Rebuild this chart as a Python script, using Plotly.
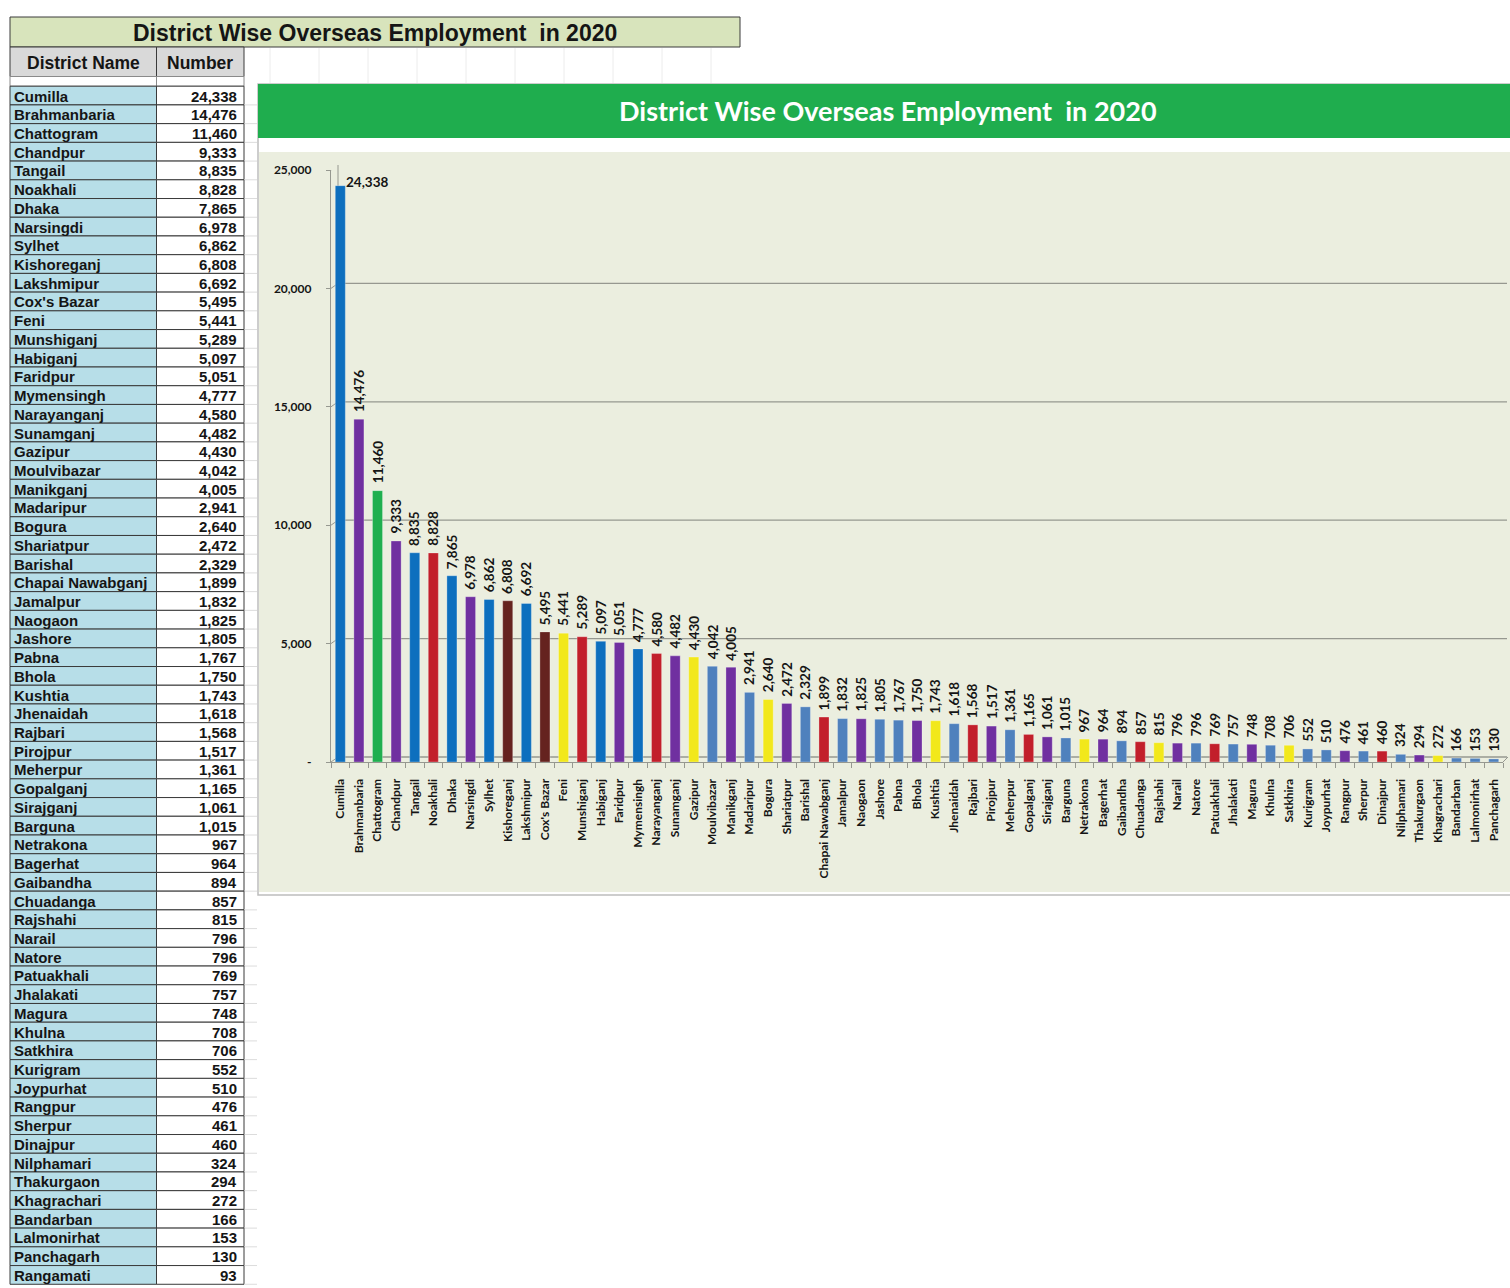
"""District wise overseas employment 2020 - table + 3D-like Excel bar chart in Plotly."""

import plotly.graph_objects as go

W, H = 1510, 1288

districts = [
    "Cumilla", "Brahmanbaria", "Chattogram", "Chandpur", "Tangail", "Noakhali",
    "Dhaka", "Narsingdi", "Sylhet", "Kishoreganj", "Lakshmipur", "Cox's Bazar",
    "Feni", "Munshiganj", "Habiganj", "Faridpur", "Mymensingh", "Narayanganj",
    "Sunamganj", "Gazipur", "Moulvibazar", "Manikganj", "Madaripur", "Bogura",
    "Shariatpur", "Barishal", "Chapai Nawabganj", "Jamalpur", "Naogaon", "Jashore",
    "Pabna", "Bhola", "Kushtia", "Jhenaidah", "Rajbari", "Pirojpur", "Meherpur",
    "Gopalganj", "Sirajganj", "Barguna", "Netrakona", "Bagerhat", "Gaibandha",
    "Chuadanga", "Rajshahi", "Narail", "Natore", "Patuakhali", "Jhalakati",
    "Magura", "Khulna", "Satkhira", "Kurigram", "Joypurhat", "Rangpur", "Sherpur",
    "Dinajpur", "Nilphamari", "Thakurgaon", "Khagrachari", "Bandarban",
    "Lalmonirhat", "Panchagarh", "Rangamati",
]
employment = [
    24338, 14476, 11460, 9333, 8835, 8828, 7865, 6978, 6862, 6808, 6692, 5495,
    5441, 5289, 5097, 5051, 4777, 4580, 4482, 4430, 4042, 4005, 2941, 2640,
    2472, 2329, 1899, 1832, 1825, 1805, 1767, 1750, 1743, 1618, 1568, 1517,
    1361, 1165, 1061, 1015, 967, 964, 894, 857, 815, 796, 796, 769, 757,
    748, 708, 706, 552, 510, 476, 461, 460, 324, 294, 272, 166, 153, 130, 93,
]
# le graphique s'arrête à Panchagarh (63 districts)
N_CHART = 63

PALETTE = {
    "B": "#0D6FBE", "P": "#7030A0", "G": "#1FAF4F", "R": "#C21F2B",
    "K": "#65231F", "Y": "#F2E81B", "S": "#4F81BD",
}
bar_color_keys = [
    "B", "P", "G", "P", "B", "R", "B", "P", "B", "K", "B", "K", "Y", "R", "B",
    "P", "B", "R", "P", "Y", "S", "P", "S", "Y", "P", "S", "R", "S", "P", "S",
    "S", "P", "Y", "S", "R", "P", "S", "R", "P", "S", "Y", "P", "S", "R", "Y",
    "P", "S", "R", "S", "P", "S", "Y", "S", "S", "P", "S", "R", "S", "P", "Y",
    "S", "S", "S",
]
y_ticks = [0, 5000, 10000, 15000, 20000, 25000]

TITLE = "District Wise Overseas Employment  in 2020"
TEXT = "#151515"
GRID = "#969890"


def px(x):
    return x / W


def py(y):
    return 1 - y / H


def text_at(x, y, text, font, xanchor="center", **kw):
    """Annotation en coordonnées papier (ancrage explicite, pas d'auto)."""
    return dict(xref="paper", yref="paper", x=px(x), y=py(y), text=text,
                xanchor=xanchor, yanchor="middle", showarrow=False,
                font=font, **kw)


shapes = []
annotations = []

# ---------------- tableau de gauche ----------------
TBL_FONT = "Liberation Sans, Arial, sans-serif"
shapes.append(dict(type="rect", xref="paper", yref="paper",
                   x0=px(10), x1=px(740), y0=py(17), y1=py(47),
                   fillcolor="#D8E4BC", line=dict(color="#3A3A3A", width=1)))
annotations.append(text_at(375, 32.5, TITLE,
                           dict(family=TBL_FONT, size=23, color=TEXT, weight="bold")))

col_name = (10, 156.5)
col_num = (156.5, 244)
for (x0, x1), label in [(col_name, "District Name"), (col_num, "Number")]:
    shapes.append(dict(type="rect", xref="paper", yref="paper",
                       x0=px(x0), x1=px(x1), y0=py(76.5), y1=py(47),
                       fillcolor="#D9D9D9", line=dict(color="#3A3A3A", width=1)))
    annotations.append(text_at((x0 + x1) / 2, 62.5, label,
                               dict(family=TBL_FONT, size=17.5, color=TEXT, weight="bold")))
    # ligne vide sous l'en-tête
    shapes.append(dict(type="rect", xref="paper", yref="paper",
                       x0=px(x0), x1=px(x1), y0=py(86.2), y1=py(76.5),
                       fillcolor="white", line=dict(color="#8A8A8A", width=1)))

ROW0, ROW_H = 86.2, 18.72
cell_font = dict(family=TBL_FONT, size=15, color=TEXT, weight="bold")
for i, (name, val) in enumerate(zip(districts, employment)):
    top = ROW0 + i * ROW_H
    bot = top + ROW_H
    shapes.append(dict(type="rect", xref="paper", yref="paper",
                       x0=px(col_name[0]), x1=px(col_name[1]), y0=py(bot), y1=py(top),
                       fillcolor="#B7DEE8", line=dict(color="#3A3A3A", width=1)))
    shapes.append(dict(type="rect", xref="paper", yref="paper",
                       x0=px(col_num[0]), x1=px(col_num[1]), y0=py(bot), y1=py(top),
                       fillcolor="white", line=dict(color="#3A3A3A", width=1)))
    # petits traits de la grille Excel à droite du tableau
    shapes.append(dict(type="line", xref="paper", yref="paper",
                       x0=px(244), x1=px(257), y0=py(bot), y1=py(bot),
                       line=dict(color="#DCDCDC", width=1)))
    annotations.append(text_at(12, top + ROW_H / 2 + 0.5, name, cell_font, xanchor="left"))
    annotations.append(text_at(239, top + ROW_H / 2 + 0.5, f"{val:,}", cell_font, xanchor="right"))

# colonnes Excel entre le tableau et le graphique
for k in range(10):
    xx = 270 + k * 49
    shapes.append(dict(type="line", xref="paper", yref="paper",
                       x0=px(xx), x1=px(xx), y0=py(48), y1=py(83),
                       line=dict(color="#ECECEC", width=1)))

# ---------------- cadre du graphique ----------------
shapes.append(dict(type="rect", xref="paper", yref="paper", layer="below",
                   x0=px(258), x1=px(1512), y0=py(895), y1=py(84),
                   fillcolor="white", line=dict(color="#BDBDBD", width=1.5)))
shapes.append(dict(type="rect", xref="paper", yref="paper", layer="below",
                   x0=px(258), x1=px(1512), y0=py(138), y1=py(84),
                   fillcolor="#1FAD4E", line=dict(width=0)))
shapes.append(dict(type="rect", xref="paper", yref="paper", layer="below",
                   x0=px(259), x1=px(1512), y0=py(892), y1=py(152),
                   fillcolor="#EBEEDF", line=dict(width=0)))
annotations.append(text_at(888, 111, TITLE,
                           dict(family="Lato, sans-serif", size=27, color="white", weight="bold")))

# axes pixel layout
AX_L, AX_R = 331, 1503
AX_B, AX_T = 762, 170
DX, DY = 7, 5  # profondeur 3D

# mur du fond : grille décalée + traits diagonaux
for v in y_ticks:
    shapes.append(dict(type="line", xref="paper", yref="y", layer="below",
                       ysizemode="pixel", yanchor=v,
                       x0=px(AX_L + DX), x1=px(1507), y0=DY, y1=DY,
                       line=dict(color=GRID, width=1.3)))
    shapes.append(dict(type="line", xref="paper", yref="y", layer="below",
                       xsizemode="pixel", xanchor=px(AX_L), ysizemode="pixel", yanchor=v,
                       x0=0, x1=DX, y0=0, y1=DY,
                       line=dict(color=GRID, width=1)))
shapes.append(dict(type="line", xref="paper", yref="paper", layer="below",
                   x0=px(AX_L + DX), x1=px(AX_L + DX), y0=py(AX_B - DY), y1=py(AX_T - DY),
                   line=dict(color=GRID, width=1)))
shapes.append(dict(type="line", xref="paper", yref="paper", layer="below",
                   x0=px(AX_R), x1=px(1508), y0=py(AX_B), y1=py(AX_B - DY),
                   line=dict(color=GRID, width=1)))

# ---------------- barres ----------------
cats = districts[:N_CHART]
vals = employment[:N_CHART]
colors = [PALETTE[k] for k in bar_color_keys]

fig = go.Figure(go.Bar(
    x=cats, y=vals, width=0.54,
    marker=dict(color=colors, line=dict(color="rgba(255,255,255,0.35)", width=0.8)),
    hoverinfo="x+y",
))

LBL_FONT = dict(family="Lato, sans-serif", size=13.5, color=TEXT, weight="bold")
annotations.append(dict(x=cats[0], y=vals[0], xref="x", yref="y", text=f"{vals[0]:,}",
                        xanchor="left", yanchor="middle", xshift=4, yshift=4,
                        showarrow=False, font=LBL_FONT))
for c, v in zip(cats[1:], vals[1:]):
    annotations.append(dict(x=c, y=v, xref="x", yref="y", text=f"{v:,}",
                            textangle=-90, xanchor="center", yanchor="bottom",
                            yshift=5, showarrow=False, font=LBL_FONT))

fig.update_layout(
    width=W, height=H, autosize=False,
    margin=dict(l=0, r=0, t=0, b=0, pad=0, autoexpand=False),
    paper_bgcolor="white",
    plot_bgcolor="rgba(0,0,0,0)",
    showlegend=False,
    shapes=shapes,
    annotations=annotations,
)
fig.update_xaxes(
    domain=[px(AX_L), px(AX_R)],
    type="category",
    range=[-0.5, N_CHART - 0.5],
    tickmode="linear", tick0=0, dtick=1,
    tickson="boundaries",
    tickangle=-90,
    ticks="outside", ticklen=5, tickcolor=GRID,
    showline=True, linecolor=GRID, linewidth=1.2,
    showgrid=False,
    automargin=False,
    ticklabelstandoff=11,
    tickfont=dict(family="Lato, sans-serif", size=12, color=TEXT, weight="bold"),
)
fig.update_yaxes(
    domain=[py(AX_B), py(AX_T)],
    range=[0, 25000],
    tickmode="array",
    tickvals=y_ticks,
    ticktext=["-"] + [f"{v:,}" for v in y_ticks[1:]],
    ticks="outside", ticklen=4, tickcolor=GRID,
    showline=True, linecolor=GRID, linewidth=1.2,
    showgrid=False, zeroline=False,
    automargin=False,
    ticklabelstandoff=12,
    tickfont=dict(family="Lato, sans-serif", size=12, color=TEXT, weight="bold"),
)

fig.write_html("out.html", config={"displayModeBar": False},
               post_script="document.body.style.margin='0';")
